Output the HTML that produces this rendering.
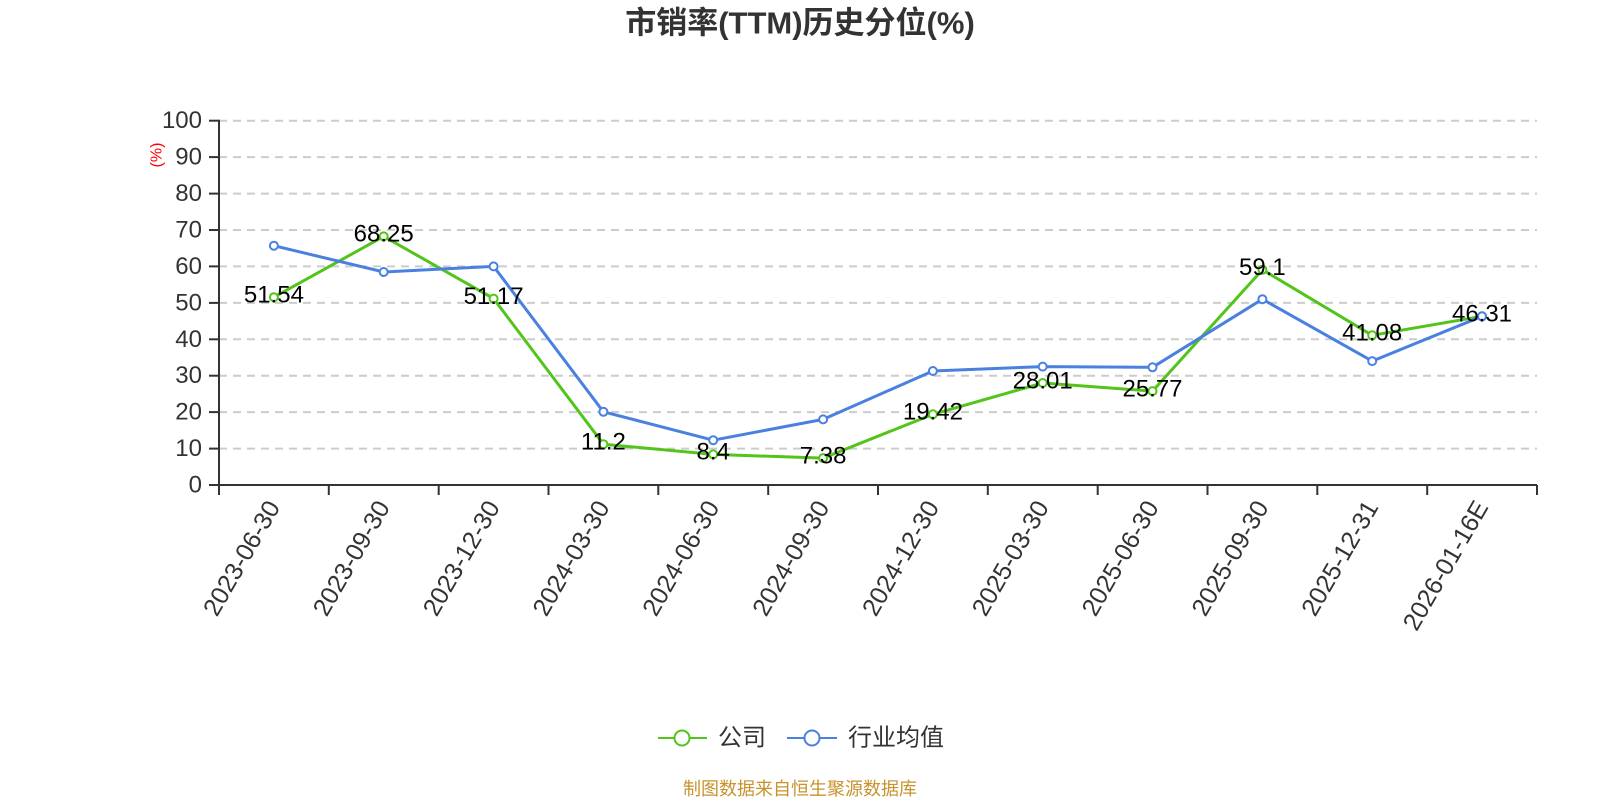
<!DOCTYPE html>
<html>
<head>
<meta charset="utf-8">
<style>
html,body{margin:0;padding:0;background:#fff;}
svg{display:block;}
text{font-family:"Liberation Sans","Noto Sans CJK SC",sans-serif;}
</style>
</head>
<body>
<svg width="1600" height="800" viewBox="0 0 1600 800" xmlns="http://www.w3.org/2000/svg">
<rect width="1600" height="800" fill="#fff"/>
<!-- title -->
<text x="800" y="23" text-anchor="middle" dominant-baseline="central" font-size="31" font-weight="bold" fill="#333">市销率(TTM)历史分位(%)</text>

<!-- grid lines -->
<g stroke="#cccccc" stroke-width="2" stroke-dasharray="8,6" fill="none">
<line x1="219" y1="448.6" x2="1537" y2="448.6"/>
<line x1="219" y1="412.1" x2="1537" y2="412.1"/>
<line x1="219" y1="375.7" x2="1537" y2="375.7"/>
<line x1="219" y1="339.3" x2="1537" y2="339.3"/>
<line x1="219" y1="302.9" x2="1537" y2="302.9"/>
<line x1="219" y1="266.4" x2="1537" y2="266.4"/>
<line x1="219" y1="230.0" x2="1537" y2="230.0"/>
<line x1="219" y1="193.6" x2="1537" y2="193.6"/>
<line x1="219" y1="157.1" x2="1537" y2="157.1"/>
<line x1="219" y1="120.7" x2="1537" y2="120.7"/>
</g>

<!-- axes -->
<g stroke="#333" stroke-width="2" fill="none">
<line x1="219" y1="119.7" x2="219" y2="486"/>
<line x1="218" y1="485" x2="1537" y2="485"/>
<!-- y ticks -->
<line x1="209" y1="485" x2="219" y2="485"/>
<line x1="209" y1="448.6" x2="219" y2="448.6"/>
<line x1="209" y1="412.1" x2="219" y2="412.1"/>
<line x1="209" y1="375.7" x2="219" y2="375.7"/>
<line x1="209" y1="339.3" x2="219" y2="339.3"/>
<line x1="209" y1="302.9" x2="219" y2="302.9"/>
<line x1="209" y1="266.4" x2="219" y2="266.4"/>
<line x1="209" y1="230.0" x2="219" y2="230.0"/>
<line x1="209" y1="193.6" x2="219" y2="193.6"/>
<line x1="209" y1="157.1" x2="219" y2="157.1"/>
<line x1="209" y1="120.7" x2="219" y2="120.7"/>
<!-- x ticks -->
<line x1="219" y1="485" x2="219" y2="495"/>
<line x1="328.8" y1="485" x2="328.8" y2="495"/>
<line x1="438.7" y1="485" x2="438.7" y2="495"/>
<line x1="548.5" y1="485" x2="548.5" y2="495"/>
<line x1="658.3" y1="485" x2="658.3" y2="495"/>
<line x1="768.2" y1="485" x2="768.2" y2="495"/>
<line x1="878" y1="485" x2="878" y2="495"/>
<line x1="987.8" y1="485" x2="987.8" y2="495"/>
<line x1="1097.7" y1="485" x2="1097.7" y2="495"/>
<line x1="1207.5" y1="485" x2="1207.5" y2="495"/>
<line x1="1317.3" y1="485" x2="1317.3" y2="495"/>
<line x1="1427.2" y1="485" x2="1427.2" y2="495"/>
<line x1="1537" y1="485" x2="1537" y2="495"/>
</g>

<!-- y labels -->
<g font-size="24" fill="#333" text-anchor="end" dominant-baseline="central">
<text x="202" y="485">0</text>
<text x="202" y="448.6">10</text>
<text x="202" y="412.1">20</text>
<text x="202" y="375.7">30</text>
<text x="202" y="339.3">40</text>
<text x="202" y="302.9">50</text>
<text x="202" y="266.4">60</text>
<text x="202" y="230.0">70</text>
<text x="202" y="193.6">80</text>
<text x="202" y="157.1">90</text>
<text x="202" y="120.7">100</text>
</g>
<text x="157" y="155" font-size="16" fill="#ff0000" text-anchor="middle" dominant-baseline="central" transform="rotate(-90 157 155)">(%)</text>

<!-- x labels -->
<g font-size="25" fill="#333" text-anchor="end" dominant-baseline="central">
<text x="273.9" y="503" transform="rotate(-60 273.9 503)">2023-06-30</text>
<text x="383.7" y="503" transform="rotate(-60 383.7 503)">2023-09-30</text>
<text x="493.6" y="503" transform="rotate(-60 493.6 503)">2023-12-30</text>
<text x="603.4" y="503" transform="rotate(-60 603.4 503)">2024-03-30</text>
<text x="713.2" y="503" transform="rotate(-60 713.2 503)">2024-06-30</text>
<text x="823.1" y="503" transform="rotate(-60 823.1 503)">2024-09-30</text>
<text x="932.9" y="503" transform="rotate(-60 932.9 503)">2024-12-30</text>
<text x="1042.7" y="503" transform="rotate(-60 1042.7 503)">2025-03-30</text>
<text x="1152.5" y="503" transform="rotate(-60 1152.5 503)">2025-06-30</text>
<text x="1262.4" y="503" transform="rotate(-60 1262.4 503)">2025-09-30</text>
<text x="1372.2" y="503" transform="rotate(-60 1372.2 503)">2025-12-31</text>
<text x="1482" y="503" transform="rotate(-60 1482 503)">2026-01-16E</text>
</g>

<!-- green series -->
<polyline fill="none" stroke="#52c41a" stroke-width="3" stroke-linejoin="round" points="273.9,297.2 383.7,236.4 493.6,298.6 603.4,444.2 713.2,454.4 823.1,458.1 932.9,414.3 1042.7,383.0 1152.5,391.1 1262.4,269.7 1372.2,335.3 1482,316.3"/>
<!-- blue series -->
<polyline fill="none" stroke="#4a80e0" stroke-width="3" stroke-linejoin="round" points="273.9,245.7 383.7,272.0 493.6,266.4 603.4,411.8 713.2,440.2 823.1,419.4 932.9,371.0 1042.7,366.6 1152.5,367.3 1262.4,299.2 1372.2,361.1 1482,316.3"/>

<g fill="#fff" stroke="#52c41a" stroke-width="2">
<circle cx="273.9" cy="297.2" r="4"/>
<circle cx="383.7" cy="236.4" r="4"/>
<circle cx="493.6" cy="298.6" r="4"/>
<circle cx="603.4" cy="444.2" r="4"/>
<circle cx="713.2" cy="454.4" r="4"/>
<circle cx="823.1" cy="458.1" r="4"/>
<circle cx="932.9" cy="414.3" r="4"/>
<circle cx="1042.7" cy="383.0" r="4"/>
<circle cx="1152.5" cy="391.1" r="4"/>
<circle cx="1262.4" cy="269.7" r="4"/>
<circle cx="1372.2" cy="335.3" r="4"/>
<circle cx="1482" cy="316.3" r="4"/>
</g>
<g fill="#fff" stroke="#4a80e0" stroke-width="2">
<circle cx="273.9" cy="245.7" r="4"/>
<circle cx="383.7" cy="272.0" r="4"/>
<circle cx="493.6" cy="266.4" r="4"/>
<circle cx="603.4" cy="411.8" r="4"/>
<circle cx="713.2" cy="440.2" r="4"/>
<circle cx="823.1" cy="419.4" r="4"/>
<circle cx="932.9" cy="371.0" r="4"/>
<circle cx="1042.7" cy="366.6" r="4"/>
<circle cx="1152.5" cy="367.3" r="4"/>
<circle cx="1262.4" cy="299.2" r="4"/>
<circle cx="1372.2" cy="361.1" r="4"/>
<circle cx="1482" cy="316.3" r="4"/>
</g>

<!-- data labels -->
<g font-size="24" fill="#000" text-anchor="middle" dominant-baseline="central">
<text x="273.9" y="295">51.54</text>
<text x="383.7" y="234">68.25</text>
<text x="493.6" y="296.5">51.17</text>
<text x="603.4" y="442">11.2</text>
<text x="713.2" y="452">8.4</text>
<text x="823.1" y="456">7.38</text>
<text x="932.9" y="412">19.42</text>
<text x="1042.7" y="381">28.01</text>
<text x="1152.5" y="389">25.77</text>
<text x="1262.4" y="267.5">59.1</text>
<text x="1372.2" y="333">41.08</text>
<text x="1482" y="314">46.31</text>
</g>

<!-- legend -->
<line x1="658" y1="738" x2="707" y2="738" stroke="#52c41a" stroke-width="2"/>
<circle cx="682" cy="738" r="7.5" fill="#fff" stroke="#52c41a" stroke-width="2"/>
<text x="718" y="738" font-size="24" fill="#333" dominant-baseline="central">公司</text>
<line x1="787" y1="738" x2="837" y2="738" stroke="#4a80e0" stroke-width="2"/>
<circle cx="812" cy="738" r="7.5" fill="#fff" stroke="#4a80e0" stroke-width="2"/>
<text x="848" y="738" font-size="24" fill="#333" dominant-baseline="central">行业均值</text>

<!-- footer -->
<text x="800" y="789" font-size="18" fill="#c8922c" text-anchor="middle" dominant-baseline="central">制图数据来自恒生聚源数据库</text>
</svg>
</body>
</html>
